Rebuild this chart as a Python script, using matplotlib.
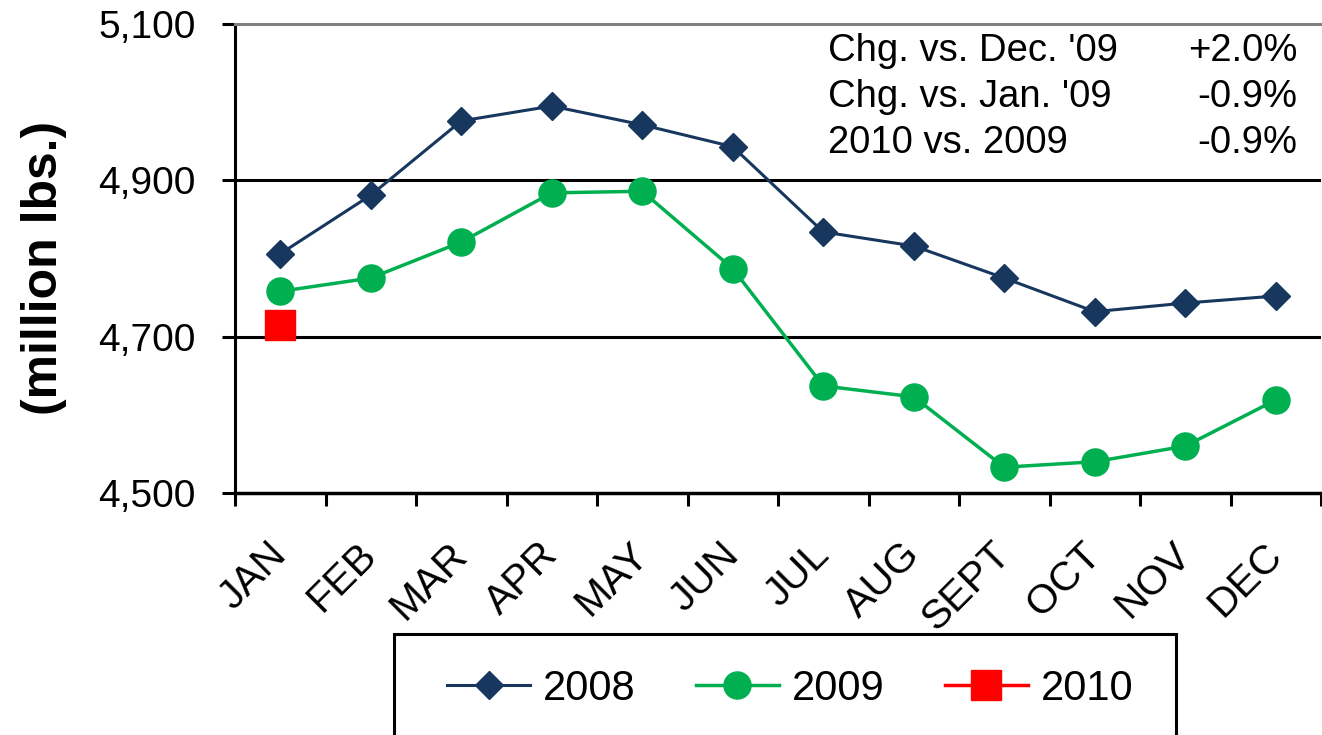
import matplotlib.pyplot as plt
from matplotlib.patches import Rectangle

plt.rcParams['font.family'] = ['Liberation Sans', 'DejaVu Sans']

months = ["JAN", "FEB", "MAR", "APR", "MAY", "JUN", "JUL", "AUG", "SEPT", "OCT", "NOV", "DEC"]
y2008 = [4806, 4881, 4976, 4995, 4971, 4943, 4834, 4816, 4775, 4732, 4743, 4752]
y2009 = [4758, 4775, 4821, 4884, 4886, 4787, 4637, 4623, 4533, 4540, 4560, 4619]
y2010 = [4715]

stat_labels = ["Chg. vs. Dec. '09", "Chg. vs. Jan. '09", "2010 vs. 2009"]
stat_values = ["+2.0%", "-0.9%", "-0.9%"]

W, H = 1322, 735
fig = plt.figure(figsize=(W / 100, H / 100), dpi=100)
ax = fig.add_axes([235 / W, 1 - 493 / H, (1321 - 235) / W, (493 - 24) / H])

x = list(range(len(months)))

# gridlines
for v in (4700, 4900):
    ax.axhline(v, color="black", lw=2.2, zorder=1)

ax.plot(x, y2008, color="#17375E", lw=2.2, marker="D", ms=14.5, label="2008", zorder=3)
ax.plot(x, y2009, color="#00B050", lw=2.5, marker="o", ms=19.5, label="2009", zorder=3)
ax.plot(x[:len(y2010)], y2010, color="#FF0000", lw=2.5, marker="s", ms=21, label="2010", zorder=4)

ax.set_xlim(-0.5, 11.5)
ax.set_ylim(4500, 5100)
ax.set_yticks([4500, 4700, 4900, 5100])
ax.set_yticklabels(["4,500", "4,700", "4,900", "5,100"])
ax.tick_params(axis="y", length=9.5, width=2.2, pad=19, labelsize=28)

ax.set_xticks(x)
ax.set_xticklabels(months, rotation=45, ha="right", va="center", rotation_mode="anchor")
ax.tick_params(axis="x", which="major", length=0, pad=40, labelsize=29.5)
ax.set_xticks([i - 0.5 for i in range(len(months) + 1)], minor=True)
ax.tick_params(axis="x", which="minor", length=9, width=2.2)

ax.spines["right"].set_visible(False)
ax.spines["top"].set_color("#808080")
ax.spines["top"].set_linewidth(2.2)
ax.spines["left"].set_linewidth(2.2)
ax.spines["bottom"].set_linewidth(2.5)

ax.set_ylabel("(million lbs.)", fontsize=36, fontweight="bold")
ax.yaxis.set_label_coords(-0.155, 0.48)

# stats text
for i, (lab, val) in enumerate(zip(stat_labels, stat_values)):
    yy = 1 - (61 + i * 46) / H
    fig.text(828 / W, yy, lab, fontsize=27.5, ha="left", va="baseline")
    fig.text(1297 / W, yy, val, fontsize=27.5, ha="right", va="baseline")

# legend box
fig.patches.append(Rectangle((394 / W, 1 - 760 / H), (1176 - 394) / W, (760 - 634) / H,
                             transform=fig.transFigure, fill=False, edgecolor="black", lw=2.2))
fig.legend(loc="center", bbox_to_anchor=(790 / W, 1 - 689 / H), ncol=3, frameon=False,
           fontsize=30, handlelength=2.0, handletextpad=0.3, columnspacing=1.45, markerscale=1.0)

fig.savefig("out.png", dpi=100)
